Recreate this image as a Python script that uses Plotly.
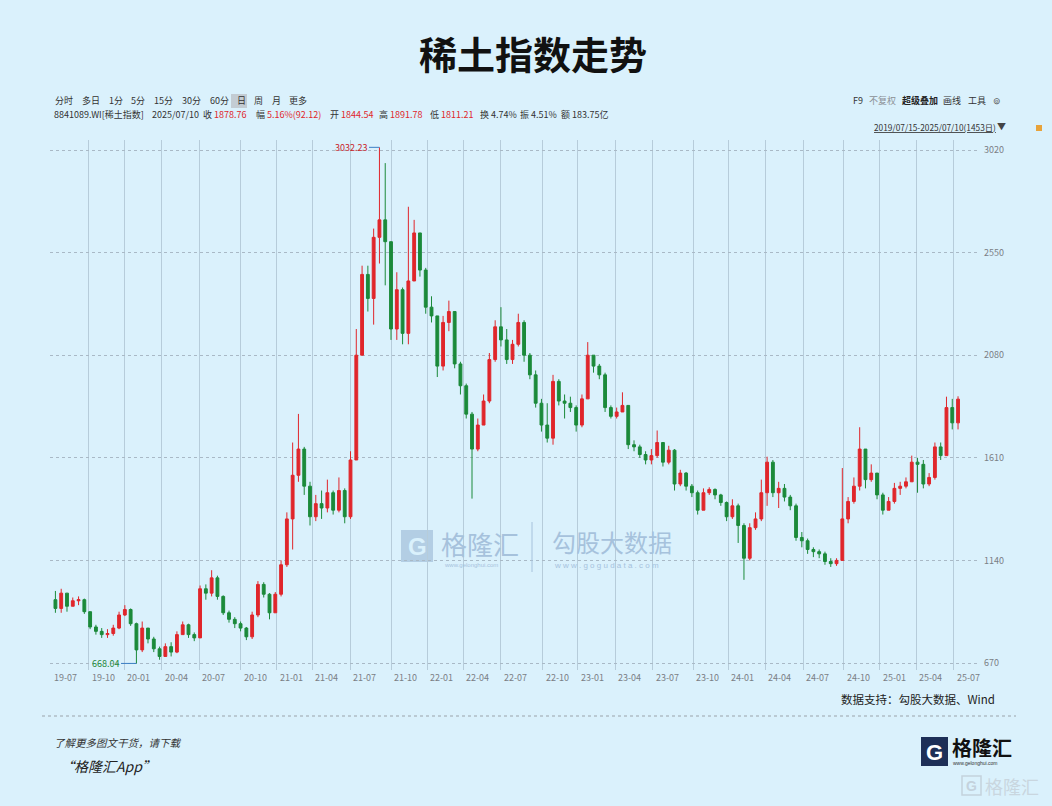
import plotly.graph_objects as go
import pandas as pd

# ---------------- data (bi-weekly candles) ----------------
close = [920, 990, 930, 955, 960, 905, 835, 815, 800, 805,
         830, 890, 915, 850, 730, 830, 780, 735, 700, 745,
         720, 800, 845, 800, 785, 1010, 990, 1060, 975, 900,
         870, 850, 830, 790, 890, 1030, 985, 900, 985, 1120,
         1330, 1530, 1650, 1480, 1340, 1400, 1380, 1450, 1370, 1460,
         1340, 1600, 2080, 2450, 2340, 2620, 2700, 2600, 2200, 2380,
         2180, 2420, 2640, 2470, 2300, 2260, 2030, 2230, 2280, 2040,
         1940, 1810, 1650, 1760, 1870, 2060, 2210, 2150, 2060, 2130,
         2230, 2080, 1990, 1860, 1760, 1700, 1960, 1870, 1860, 1840,
         1760, 1880, 2080, 2030, 1990, 1840, 1800, 1820, 1850, 1670,
         1660, 1625, 1600, 1620, 1680, 1590, 1645, 1490, 1540, 1480,
         1450, 1370, 1450, 1465, 1440, 1405, 1340, 1390, 1300, 1150,
         1290, 1330, 1450, 1590, 1450, 1470, 1430, 1390, 1245, 1230,
         1190, 1180, 1170, 1135, 1125, 1140, 1330, 1410, 1480, 1650,
         1510, 1540, 1440, 1370, 1410, 1470, 1480, 1500, 1590, 1580,
         1490, 1520, 1660, 1620, 1840, 1770, 1878.76]

high = [1000, 1010, 960, 970, 975, 965, 900, 845, 830, 825,
        845, 905, 935, 920, 855, 860, 820, 790, 745, 760,
        765, 815, 860, 850, 810, 1025, 1030, 1095, 1070, 980,
        910, 880, 860, 835, 905, 1045, 1040, 990, 995, 1140,
        1360, 1680, 1811, 1660, 1500, 1440, 1460, 1510, 1460, 1520,
        1470, 1640, 2200, 2490, 2490, 2660, 3032.23, 2960, 2600, 2460,
        2390, 2760, 2700, 2640, 2480, 2350, 2260, 2260, 2330, 2280,
        2050, 1950, 1820, 1790, 1900, 2090, 2240, 2300, 2200, 2150,
        2270, 2240, 2090, 2010, 1880, 1860, 1990, 1970, 1900, 1890,
        1850, 1900, 2140, 2080, 2040, 2000, 1850, 1840, 1910, 1850,
        1690, 1670, 1640, 1650, 1735, 1680, 1665, 1650, 1555, 1545,
        1490, 1460, 1470, 1475, 1470, 1445, 1410, 1420, 1400, 1310,
        1310, 1360, 1510, 1615, 1600, 1500, 1490, 1440, 1400, 1270,
        1240, 1200, 1190, 1180, 1150, 1150, 1563, 1430, 1520, 1750,
        1640, 1580, 1540, 1450, 1430, 1495, 1500, 1520, 1620, 1610,
        1600, 1540, 1680, 1680, 1890, 1880, 1891.78]

low = [900, 900, 905, 930, 935, 895, 825, 800, 785, 785,
       795, 825, 885, 840, 668.04, 720, 760, 720, 685, 700,
       700, 715, 800, 785, 770, 785, 960, 975, 960, 890,
       855, 830, 815, 775, 780, 880, 970, 870, 900, 975,
       1110, 1190, 1500, 1440, 1300, 1320, 1330, 1360, 1350, 1360,
       1310, 1330, 1600, 2080, 2280, 2220, 2500, 2400, 2150, 2150,
       2130, 2130, 2550, 2440, 2270, 2230, 1980, 2010, 2190, 2020,
       1900, 1790, 1423, 1640, 1760, 1860, 2050, 2120, 2040, 2040,
       2120, 2050, 1970, 1840, 1730, 1680, 1670, 1850, 1790, 1820,
       1730, 1750, 1880, 2000, 1970, 1820, 1790, 1790, 1820, 1650,
       1640, 1610, 1580, 1580, 1610, 1570, 1580, 1460, 1480, 1460,
       1430, 1350, 1370, 1440, 1420, 1390, 1320, 1330, 1220, 1051,
       1140, 1280, 1320, 1390, 1430, 1380, 1410, 1370, 1230, 1200,
       1170, 1155, 1150, 1120, 1110, 1115, 1140, 1310, 1400, 1460,
       1470, 1500, 1420, 1350, 1380, 1400, 1440, 1470, 1500, 1450,
       1470, 1480, 1510, 1600, 1620, 1740, 1740]

first_open = 960
start_date = "2019-07-19"

y_ticks = [670, 1140, 1610, 2080, 2550, 3020]
x_tick_labels = ["19-07", "19-10", "20-01", "20-04", "20-07", "20-10", "21-01", "21-04",
                 "21-07", "21-10", "22-01", "22-04", "22-07", "22-10", "23-01", "23-04",
                 "23-07", "23-10", "24-01", "24-04", "24-07", "24-10", "25-01", "25-04", "25-07"]
x_tick_dates = ["2019-07-08", "2019-10-08", "2020-01-02", "2020-04-01", "2020-07-01",
                "2020-10-09", "2021-01-04", "2021-04-01", "2021-07-01", "2021-10-08",
                "2022-01-04", "2022-04-01", "2022-07-01", "2022-10-10", "2023-01-03",
                "2023-04-03", "2023-07-03", "2023-10-09", "2024-01-02", "2024-04-01",
                "2024-07-01", "2024-10-08", "2025-01-02", "2025-04-01", "2025-07-01"]

max_val, min_val = 3032.23, 668.04

# ---------------- derived ----------------
dates = pd.date_range(start_date, periods=len(close), freq="14D")
opens = [first_open] + close[:-1]
highs = [max(h, o, c) for h, o, c in zip(high, opens, close)]
lows = [min(l, o, c) for l, o, c in zip(low, opens, close)]

W, H = 1052, 806
PL, PR, PT, PB = 50, 977, 140, 670   # plot area in pixels

def px(x):
    return (x - PL) / (PR - PL)

def py(y):
    return (PB - y) / (PB - PT)

def pdate(x):
    # pixel -> date on the chart's time axis
    return pd.Timestamp("2019-10-01") + pd.Timedelta(days=(x - 86) * 2.4196)

FONT = "Noto Sans CJK SC, Noto Sans, sans-serif"
RED = "#e0262b"
GREEN = "#1b8a3a"
BG = "#daf1fc"

fig = go.Figure()
fig.add_trace(go.Candlestick(
    x=dates, open=opens, high=highs, low=lows, close=close,
    increasing=dict(line=dict(color=RED, width=1), fillcolor=RED),
    decreasing=dict(line=dict(color=GREEN, width=1), fillcolor=GREEN),
    whiskerwidth=0, showlegend=False, hoverinfo="skip",
))

ann = []
shapes = []

def text(x, y, s, size=10, color="#333", anchor="left", bold=False, italic=False, yanchor="middle", family=FONT):
    if bold:
        s = "<b>" + s + "</b>"
    if italic:
        s = "<i>" + s + "</i>"
    ann.append(dict(x=px(x), y=py(y), xref="paper", yref="paper", text=s, showarrow=False,
                    xanchor=anchor, yanchor=yanchor, font=dict(size=size, color=color, family=family)))

# title
text(533, 52, "稀土指数走势", size=38, color="#111", anchor="center", bold=True)

# toolbar row 1
tb = [(53, "分时"), (80, "多日"), (107, "1分"), (129, "5分"), (152, "15分"), (180, "30分"),
      (208, "60分"), (235, "日"), (252, "周"), (270, "月"), (287, "更多")]
shapes.append(dict(type="rect", xref="paper", yref="paper", x0=px(231), x1=px(247), y0=py(108), y1=py(94),
                   fillcolor="#c3ccd3", line=dict(width=0), layer="below"))
for x, s in tb:
    text(x, 101, s, size=9, color="#333")

# toolbar row 2
r = RED
row2 = [(52, "8841089.WI[稀土指数]"), (150, "2025/07/10"),
        (201, f"收 <span style='color:{r}'>1878.76</span>"),
        (254, f"幅 <span style='color:{r}'>5.16%(92.12)</span>"),
        (328, f"开 <span style='color:{r}'>1844.54</span>"),
        (377, f"高 <span style='color:{r}'>1891.78</span>"),
        (428, f"低 <span style='color:{r}'>1811.21</span>"),
        (478, "换 4.74%"), (518, "振 4.51%"), (559, "额 183.75亿")]
for x, s in row2:
    text(x, 114, s, size=9, color="#333")

# right toolbar
text(851, 101, "F9", size=9, color="#333")
text(867, 101, "不复权", size=9, color="#8a8f94")
text(900, 101, "超级叠加", size=9, color="#222", bold=True)
text(941, 101, "画线", size=9, color="#333")
text(966, 101, "工具", size=9, color="#333")
text(991, 101, "⊚", size=9, color="#555")
text(872, 127, "<u>2019/07/15-2025/07/10(1453日)</u>", size=8.3, color="#333")
text(995, 126, "▼", size=9, color="#444")
shapes.append(dict(type="rect", xref="paper", yref="paper", x0=px(1036), x1=px(1042), y0=py(131), y1=py(125),
                   fillcolor="#e8a33a", line=dict(width=0)))

# x tick labels (left-aligned to gridlines)
for d, s in zip(x_tick_dates, x_tick_labels):
    ann.append(dict(x=d, y=py(677), xref="x", yref="paper", text=s, showarrow=False, xanchor="left",
                    xshift=1, yanchor="middle", font=dict(size=9, color="#7a7f85", family=FONT)))

# max / min labels
peak_i = max(range(len(highs)), key=lambda i: highs[i])
low_i = min(range(len(lows)), key=lambda i: lows[i])
ann.append(dict(x=pdate(369), y=max_val, xref="x", yref="y", text=f"{max_val:.2f}", showarrow=False,
                xanchor="right", yanchor="middle", font=dict(size=9, color="#c9252b", family=FONT)))
shapes.append(dict(type="line", xref="x", yref="y", x0=pdate(369), x1=dates[peak_i], y0=max_val, y1=max_val,
                   line=dict(color="#3b7fc4", width=1)))
ann.append(dict(x=pdate(121), y=min_val, xref="x", yref="y", text=f"{min_val:.2f}", showarrow=False,
                xanchor="right", yanchor="middle", font=dict(size=9, color="#1f8a3a", family=FONT)))
shapes.append(dict(type="line", xref="x", yref="y", x0=pdate(121), x1=dates[low_i], y0=min_val, y1=min_val,
                   line=dict(color="#3b7fc4", width=1)))

# center watermark
WM = "#a6c2dc"
shapes.append(dict(type="rect", xref="paper", yref="paper", x0=px(401), x1=px(433), y0=py(562), y1=py(530),
                   fillcolor="rgba(166,194,220,0.75)", line=dict(width=0), layer="below"))
text(417, 546, "G", size=24, color=BG, anchor="center", bold=True, family="Arial")
text(439, 543, "格隆汇", size=26, color=WM, family=FONT)
text(442, 565, "www.gelonghui.com", size=6, color=WM, family="Arial")
shapes.append(dict(type="line", xref="paper", yref="paper", x0=px(532), x1=px(532), y0=py(572), y1=py(522),
                   line=dict(color=WM, width=1)))
text(550, 541, "勾股大数据", size=24, color=WM, family=FONT)
text(552, 565, "w w w . g o g u d a t a . c o m", size=8, color=WM, family="Arial")

# source + footer
text(997, 699, "数据支持：勾股大数据、Wind", size=11.5, color="#222", anchor="right")
shapes.append(dict(type="line", xref="paper", yref="paper", x0=px(42), x1=px(1016), y0=py(716), y1=py(716),
                   line=dict(color="#9aa3aa", width=1.2, dash="dot")))
text(52, 742, "了解更多图文干货，请下载", size=10.5, color="#333", italic=True)
text(58, 766, "“格隆汇App”", size=14, color="#222", italic=True)

# bottom-right logo
shapes.append(dict(type="rect", xref="paper", yref="paper", x0=px(921), x1=px(948), y0=py(766), y1=py(737),
                   fillcolor="#1d2f57", line=dict(width=0)))
text(934.5, 752, "G", size=22, color="white", anchor="center", bold=True, family="Arial")
text(950, 747, "格隆汇", size=20, color="#111", bold=True)
text(951, 763, "www.gelonghui.com", size=5, color="#333", family="Arial")
shapes.append(dict(type="rect", xref="paper", yref="paper", x0=px(962), x1=px(981), y0=py(795), y1=py(776),
                   fillcolor="rgba(0,0,0,0)", line=dict(color="#c4d2dc", width=1.5)))
text(971.5, 786, "G", size=14, color="#c4d2dc", anchor="center", bold=True, family="Arial")
text(983, 786, "格隆汇", size=18, color="#c9d6df")

fig.update_layout(
    width=W, height=H, autosize=False,
    paper_bgcolor=BG, plot_bgcolor=BG,
    margin=dict(l=PL, r=W - PR, t=PT, b=H - PB, pad=0),
    font=dict(family=FONT),
    annotations=ann, shapes=shapes,
    xaxis=dict(type="date", range=[pdate(PL), pdate(PR)], rangeslider=dict(visible=False),
               tickvals=x_tick_dates[1:], showticklabels=False, ticks="",
               showgrid=True, gridcolor="#b6ccda", gridwidth=1, zeroline=False, showline=False),
    yaxis=dict(side="right", range=[670 - 7 * 4.581, 3020 + 10 * 4.581], tickvals=y_ticks,
               ticktext=[str(v) for v in y_ticks], ticks="", ticklabelstandoff=6,
               tickfont=dict(size=9, color="#7a7f85", family=FONT),
               showgrid=True, gridcolor="#a9b9c6", griddash="dot", gridwidth=1, zeroline=False, showline=False),
)

fig.write_html("out.html", config={"displayModeBar": False, "staticPlot": True})

# remove the browser's default page margin so the figure sits at the page origin
with open("out.html", "r", encoding="utf-8") as f:
    html = f.read()
html = html.replace("<head>", "<head><style>html,body{margin:0;padding:0;background:%s;}</style>" % BG, 1)
with open("out.html", "w", encoding="utf-8") as f:
    f.write(html)
